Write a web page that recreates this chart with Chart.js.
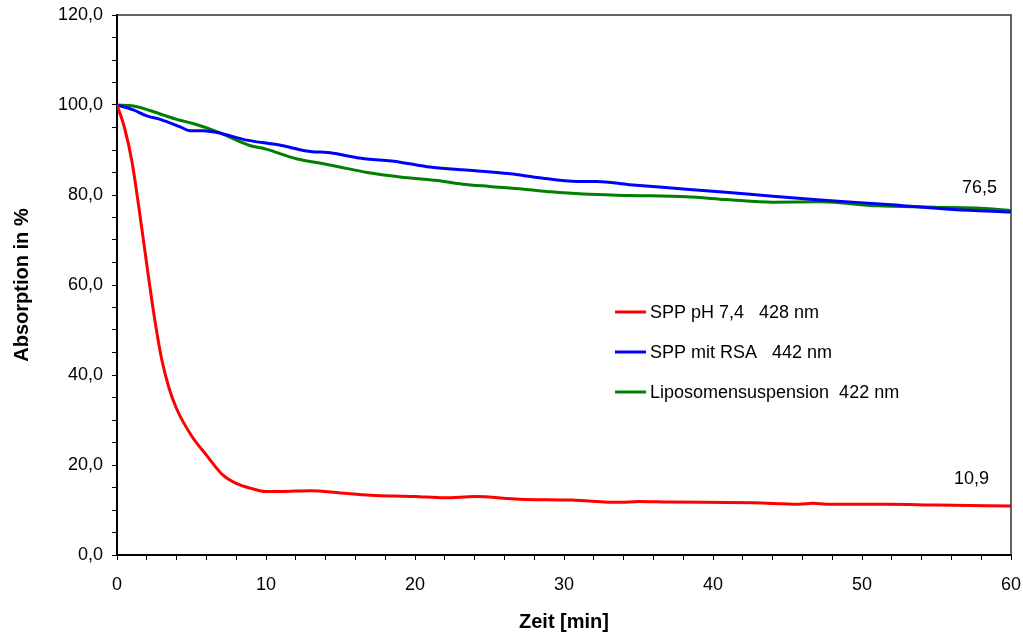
<!DOCTYPE html>
<html>
<head>
<meta charset="utf-8">
<script src="https://cdn.jsdelivr.net/npm/chart.js@4"></script>
<style>
html, body { margin: 0; padding: 0; background: #fff; }
#wrap { width: 1023px; height: 635px; }
</style>
</head>
<body>
<div id="wrap"><canvas id="lineChart" width="1023" height="635"></canvas></div>
<script>
// Zeit [min] / Absorption in %
var timeRed = [0, 0.5, 1, 1.5, 2, 2.5, 3, 3.5, 4, 5, 6, 7.1, 8, 9, 10, 11, 13, 15, 17, 20, 22, 24, 27, 30.5, 33.8, 35, 37, 42.7, 45.8, 46.7, 47.6, 51.7, 55, 60];
var valRed = [100, 95, 87.5, 76.5, 64.5, 53, 43.5, 37, 32.5, 26.5, 22.2, 17.8, 15.9, 14.8, 14.1, 14.1, 14.3, 13.8, 13.3, 13.0, 12.7, 13.0, 12.4, 12.2, 11.7, 11.9, 11.8, 11.6, 11.3, 11.5, 11.3, 11.3, 11.1, 10.9];

var timeBlue = [0, 1.1, 2, 2.9, 4.2, 4.9, 5.8, 6.7, 8.7, 10.9, 12.7, 14.5, 16.1, 19, 21, 23.2, 26.4, 28.2, 30.9, 32.2, 34.4, 38.2, 42.3, 47.2, 51.7, 56.1, 60];
var valBlue = [100, 98.9, 97.6, 96.8, 95.2, 94.3, 94.3, 93.9, 92.2, 91.1, 89.8, 89.3, 88.3, 87.3, 86.2, 85.6, 84.7, 83.9, 83.0, 83.0, 82.3, 81.3, 80.2, 78.9, 77.9, 76.8, 76.2];

var timeGreen = [0, 1.1, 2.9, 4, 5.1, 6.7, 8.9, 10, 12.1, 13.6, 14.7, 16.8, 19, 21.5, 23.2, 25, 27.3, 29.1, 31.3, 34.4, 38.2, 40.9, 44, 47.2, 51, 54.8, 58.8, 60];
var valGreen = [100, 99.8, 98, 96.8, 95.9, 94.1, 91, 90.2, 88, 87.1, 86.4, 85, 84, 83.2, 82.4, 81.9, 81.3, 80.7, 80.2, 79.9, 79.6, 79, 78.4, 78.5, 77.6, 77.3, 76.9, 76.5];

var seriesLabels = ["SPP pH 7,4   428 nm", "SPP mit RSA   442 nm", "Liposomensuspension  422 nm"];
var endLabels = ["10,9", "76,5"];

function pts(xs, ys) {
  return xs.map(function (x, i) { return { x: x, y: ys[i] }; });
}

var FONT = "'Liberation Sans', Arial, sans-serif";
Chart.defaults.font.family = FONT;
Chart.defaults.color = '#000';

var boxPlugin = {
  id: 'boxAndLegend',
  afterDraw: function (chart) {
    var c = chart.ctx, a = chart.chartArea;
    c.save();
    // frame top / right
    c.strokeStyle = '#333';
    c.lineWidth = 1.5;
    c.beginPath();
    c.moveTo(a.left, a.top);
    c.lineTo(a.right, a.top);
    c.lineTo(a.right, a.bottom);
    c.stroke();

    // legend
    c.font = '18px ' + FONT;
    c.textBaseline = 'middle';
    c.textAlign = 'left';
    chart.data.datasets.forEach(function (ds, i) {
      var y = 312 + i * 40;
      c.strokeStyle = ds.borderColor;
      c.lineWidth = 3;
      c.beginPath();
      c.moveTo(615, y);
      c.lineTo(646, y);
      c.stroke();
      c.fillStyle = '#000';
      c.fillText(ds.label, 650, y + 1);
    });

    // end values
    c.textAlign = 'right';
    var redLast = chart.getDatasetMeta(0).data.slice(-1)[0];
    var greenLast = chart.getDatasetMeta(2).data.slice(-1)[0];
    c.fillText(endLabels[0], redLast.x - 22, redLast.y - 27);
    c.fillText(endLabels[1], greenLast.x - 14, greenLast.y - 23);
    c.restore();
  }
};

function lineSet(label, data, color) {
  return {
    label: label,
    data: data,
    borderColor: color,
    backgroundColor: color,
    borderWidth: 3,
    pointRadius: 0,
    cubicInterpolationMode: 'monotone',
    fill: false
  };
}

var ctxL = document.getElementById("lineChart").getContext('2d');
var myLineChart = new Chart(ctxL, {
  type: 'line',
  data: {
    datasets: [
      lineSet(seriesLabels[0], pts(timeRed, valRed), '#ff0000'),
      lineSet(seriesLabels[1], pts(timeBlue, valBlue), '#0000ff'),
      lineSet(seriesLabels[2], pts(timeGreen, valGreen), '#008000')
    ]
  },
  options: {
    responsive: false,
    animation: false,
    layout: { padding: { top: 15, right: 12, left: 0, bottom: 0 } },
    plugins: { legend: { display: false }, tooltip: { enabled: false } },
    scales: {
      x: {
        type: 'linear',
        min: 0,
        max: 60,
        afterFit: function (s) { s.height = 80; s.paddingLeft = 0; s.paddingRight = 0; },
        border: { color: '#000', width: 2 },
        grid: { drawOnChartArea: false, drawTicks: true, tickLength: 5, color: '#000', lineWidth: 1 },
        ticks: {
          stepSize: 2,
          autoSkip: false,
          maxRotation: 0,
          padding: 14,
          font: { size: 18 },
          callback: function (v) { return v % 10 === 0 ? String(v) : ''; }
        },
        title: { display: true, text: 'Zeit [min]', font: { size: 20, weight: 'bold' }, padding: { top: 0, bottom: 1 } }
      },
      y: {
        min: 0,
        max: 120,
        afterFit: function (s) { s.width = 117; s.paddingTop = 0; s.paddingBottom = 0; },
        border: { color: '#000', width: 2 },
        grid: { drawOnChartArea: false, drawTicks: true, tickLength: 5, color: '#000', lineWidth: 1 },
        ticks: {
          stepSize: 5,
          autoSkip: false,
          padding: 9,
          font: { size: 18 },
          callback: function (v) { return v % 20 === 0 ? v.toFixed(1).replace('.', ',') : ''; }
        },
        title: { display: true, text: 'Absorption in %', font: { size: 20, weight: 'bold' }, padding: { top: 10, bottom: 0 } }
      }
    }
  },
  plugins: [boxPlugin]
});
</script>
</body>
</html>
